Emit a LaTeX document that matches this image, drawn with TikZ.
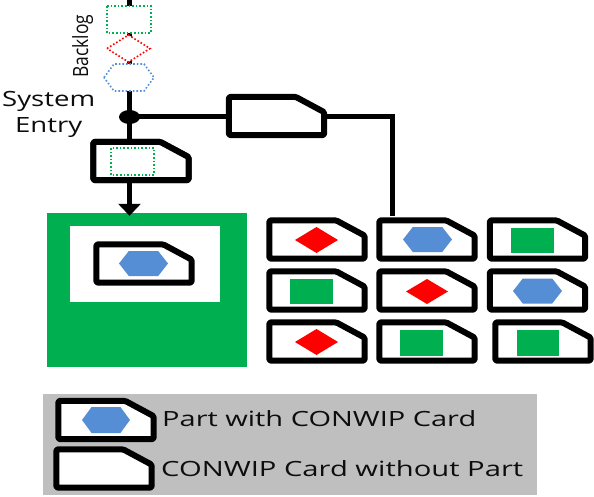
\documentclass[tikz,border=0pt]{standalone}
\usepackage{fontspec}
\setmainfont{Open Sans}
\usepackage{graphicx}
\usetikzlibrary{calc,arrows.meta}
\definecolor{cgreen}{HTML}{00B050}
\definecolor{cred}{HTML}{FF0000}
\definecolor{cblue}{HTML}{558ED5}
\definecolor{cgray}{HTML}{BFBFBF}
\definecolor{ctext}{HTML}{0D0D0D}
\tikzset{
  cardbox/.style={draw=none,minimum width=95pt,minimum height=38pt,inner sep=0pt},
  cardline/.style={draw=black,fill=white,line width=6pt,line join=round,rounded corners=1.5pt},
  conn/.style={draw=black,line width=5pt},
  lbl/.style={inner sep=0pt,anchor=base west,text=ctext,font=\fontsize{21}{25}\selectfont},
  dotg/.style={draw=cgreen,dotted,line width=1.6pt,fill=white},
  dotr/.style={draw=cred,dotted,line width=1.6pt,fill=white},
  dotb/.style={draw=cblue,dotted,line width=1.6pt,fill=white},
  fg/.style={fill=cgreen},
  fr/.style={fill=cred},
  fb/.style={fill=cblue},
}
\newcommand\kcard[3]{%
  \node[cardbox] (#1) at (#2,#3) {};
  \draw[cardline] (#1.north west) -- ($(#1.north west)!0.7!(#1.north east)$)
    -- ($(#1.north east)!0.4!(#1.south east)$) -- (#1.south east)
    -- (#1.south west) -- cycle;}
\newcommand\khex[5]{%
  \path[#5] (#1-#3/2,#2) -- (#1-0.3*#3,#2-#4/2) -- (#1+0.3*#3,#2-#4/2)
    -- (#1+#3/2,#2) -- (#1+0.3*#3,#2+#4/2) -- (#1-0.3*#3,#2+#4/2) -- cycle;}
\newcommand\kdia[5]{%
  \path[#5] (#1-#3/2,#2) -- (#1,#2-#4/2) -- (#1+#3/2,#2) -- (#1,#2+#4/2) -- cycle;}
\newcommand\krect[5]{%
  \path[#5] (#1-#3/2,#2-#4/2) rectangle (#1+#3/2,#2+#4/2);}
\begin{document}
\begin{tikzpicture}[x=1pt,y=-1pt]
\useasboundingbox[fill=white] (0,0) rectangle (594,497);
% backgrounds
\node[fill=cgreen,minimum width=200pt,minimum height=154pt,inner sep=0pt] (cell) at (147,290) {};
\node[fill=white,minimum width=150pt,minimum height=76pt,inner sep=0pt] (slot) at (145,264) {};
\node[fill=cgray,minimum width=494pt,minimum height=101pt,inner sep=0pt] (legend) at (290,444.5) {};
% coordinates
\coordinate (top) at (129.5,0);
\coordinate (jn) at (129.5,117);
\coordinate (ret) at (392.5,216);
% connectors
\draw[conn] (top) -- (jn);
% backlog
\krect{129}{19.5}{44}{27}{dotg}
\kdia{128.5}{48.5}{43}{27}{dotr}
\khex{129}{77.5}{50}{27}{dotb}
% entry card
\kcard{entry}{276.5}{116}
\kcard{sys}{141}{161}
\draw[conn] (jn) -- (jn -| entry.west);
\draw[conn] (jn -| entry.east) -| (ret);
\draw[conn] (jn) -- (jn |- sys.north);
\draw[conn,-{Triangle[width=22pt,length=12pt]}] (jn |- sys.south) -- ($(jn |- cell.north)+(0,3)$);
\kcard{sys}{141}{161}
\krect{132.5}{161.5}{43}{27}{dotg}
\fill (jn) ellipse[x radius=10.5pt,y radius=7pt];
% card in cell
\kcard{wip}{144}{263.5}
\khex{143.5}{263.5}{49}{25}{fb}
% grid
\kcard{g11}{317}{239.5}
\kcard{g12}{427}{239.5}
\kcard{g13}{537.5}{239.5}
\kcard{g21}{317}{290.5}
\kcard{g22}{427}{290.5}
\kcard{g23}{537.5}{290.5}
\kcard{g31}{317}{341.5}
\kcard{g32}{427}{341.5}
\kcard{g33}{543}{341.5}
\kdia{316.5}{240}{43}{26}{fr}
\khex{427.5}{239.5}{49}{25}{fb}
\krect{532.5}{240.5}{43}{25}{fg}
\krect{311.5}{291.5}{43}{25}{fg}
\kdia{427}{291.5}{42}{25}{fr}
\khex{537.5}{291}{49}{25}{fb}
\kdia{316.5}{342}{43}{26}{fr}
\krect{421.5}{343}{43}{26}{fg}
\krect{538}{343}{42}{26}{fg}
% legend
\kcard{leg1}{106}{420}
\khex{106}{420}{48}{26}{fb}
\kcard{leg2}{104}{468.5}
% texts
\node[lbl] (tsys) at (2,107) {\resizebox{93pt}{\height}{System}};
\node[lbl] (tent) at (15,133) {\resizebox{67pt}{\height}{Entry}};
\node[lbl,rotate=90] (tback) at (88,78) {\resizebox{63pt}{\height}{Backlog}};
\node[lbl] (tl1) at (162,426) {\resizebox{314pt}{\height}{Part with CONWIP Card}};
\node[lbl] (tl2) at (161,476) {\resizebox{362pt}{\height}{CONWIP Card without Part}};
\end{tikzpicture}
\end{document}
